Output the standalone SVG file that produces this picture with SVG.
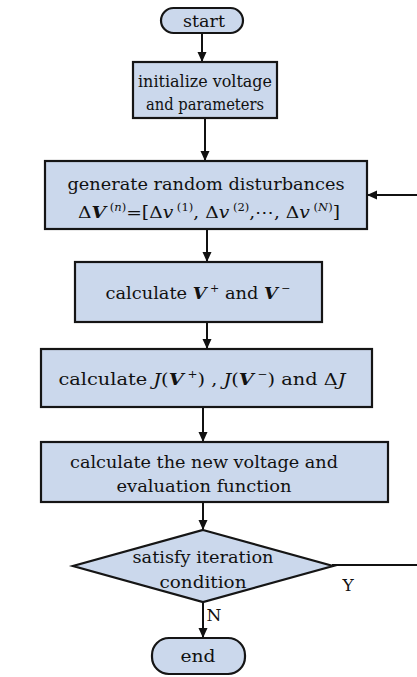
<svg xmlns="http://www.w3.org/2000/svg" width="417" height="677" viewBox="0 0 417 677">
<defs>
<marker id="ah" markerWidth="10" markerHeight="10" refX="9" refY="5" orient="auto" markerUnits="userSpaceOnUse">
<path d="M0,0.5 L10,5 L0,9.5 Z" fill="#111"/>
</marker>
<style>
.box{fill:#cbd8ec;stroke:#151515;stroke-width:2.2}
.t{font-family:"DejaVu Serif","Liberation Serif",serif;font-size:17px;fill:#111;text-anchor:middle}
.m{font-style:italic;font-weight:bold}
.s{font-size:10.5px}
.c{stroke:#111;stroke-width:2;fill:none}
</style>
</defs>
<rect width="417" height="677" fill="#fff"/>
<g id="connectors">
<line class="c" x1="202" y1="33" x2="202" y2="61" marker-end="url(#ah)"/>
<line class="c" x1="205" y1="118" x2="205" y2="160" marker-end="url(#ah)"/>
<line class="c" x1="207" y1="229" x2="207" y2="261" marker-end="url(#ah)"/>
<line class="c" x1="207" y1="322" x2="207" y2="348" marker-end="url(#ah)"/>
<line class="c" x1="203" y1="407" x2="203" y2="441" marker-end="url(#ah)"/>
<line class="c" x1="203" y1="502" x2="203" y2="529" marker-end="url(#ah)"/>
<line class="c" x1="203" y1="602" x2="203" y2="637" marker-end="url(#ah)"/>
<line class="c" x1="332" y1="565" x2="417" y2="565"/>
<line class="c" x1="417" y1="195" x2="368" y2="195" marker-end="url(#ah)"/>
<text class="t" x="348" y="591">Y</text>
<text class="t" x="214" y="621">N</text>
</g>
<g id="start">
<rect class="box" x="161" y="8" width="82" height="25" rx="12.5"/>
<text class="t" x="204" y="27" textLength="42" lengthAdjust="spacingAndGlyphs">start</text>
</g>
<g id="init">
<rect class="box" x="133" y="62" width="144" height="56"/>
<text class="t" x="205" y="87" textLength="134" lengthAdjust="spacingAndGlyphs">initialize voltage</text>
<text class="t" x="205" y="110" textLength="118" lengthAdjust="spacingAndGlyphs">and parameters</text>
</g>
<g id="generate">
<rect class="box" x="45" y="161" width="322" height="68"/>
<text class="t" x="206" y="190" textLength="277" lengthAdjust="spacingAndGlyphs">generate random disturbances</text>
<text class="t" x="209" y="218" textLength="262" lengthAdjust="spacingAndGlyphs"><tspan>Δ</tspan><tspan class="m">V</tspan><tspan class="s" dy="-7"> (</tspan><tspan class="s" font-style="italic">n</tspan><tspan class="s">)</tspan><tspan dy="7">=[Δ</tspan><tspan font-style="italic">v</tspan><tspan class="s" dy="-7"> (1)</tspan><tspan dy="7">, Δ</tspan><tspan font-style="italic">v</tspan><tspan class="s" dy="-7"> (2)</tspan><tspan dy="7">,⋯, Δ</tspan><tspan font-style="italic">v</tspan><tspan class="s" dy="-7"> (</tspan><tspan class="s" font-style="italic">N</tspan><tspan class="s">)</tspan><tspan dy="7">]</tspan></text>
</g>
<g id="calcV">
<rect class="box" x="75" y="262" width="247" height="60"/>
<text class="t" x="198" y="299" textLength="185" lengthAdjust="spacingAndGlyphs">calculate <tspan class="m">V</tspan><tspan class="s" dy="-7"> +</tspan><tspan dy="7"> and </tspan><tspan class="m">V</tspan><tspan class="s" dy="-7"> −</tspan></text>
</g>
<g id="calcJ">
<rect class="box" x="41" y="349" width="331" height="58"/>
<text class="t" x="202" y="385" textLength="287" lengthAdjust="spacingAndGlyphs">calculate <tspan font-style="italic">J</tspan>(<tspan class="m">V</tspan><tspan class="s" dy="-7"> +</tspan><tspan dy="7">) , </tspan><tspan font-style="italic">J</tspan>(<tspan class="m">V</tspan><tspan class="s" dy="-7"> −</tspan><tspan dy="7">) and  Δ</tspan><tspan font-style="italic">J</tspan></text>
</g>
<g id="newvoltage">
<rect class="box" x="41" y="442" width="347" height="60"/>
<text class="t" x="204" y="468" textLength="268" lengthAdjust="spacingAndGlyphs">calculate the new voltage and</text>
<text class="t" x="204" y="492" textLength="175" lengthAdjust="spacingAndGlyphs">evaluation function</text>
</g>
<g id="decision">
<polygon class="box" points="203,530 333,566 203,602 73,566"/>
<text class="t" x="203" y="563" textLength="141" lengthAdjust="spacingAndGlyphs">satisfy iteration</text>
<text class="t" x="203" y="588" textLength="87" lengthAdjust="spacingAndGlyphs">condition</text>
</g>
<g id="end">
<rect class="box" x="152" y="638" width="93" height="36" rx="17"/>
<text class="t" x="198" y="662" textLength="35" lengthAdjust="spacingAndGlyphs">end</text>
</g>
</svg>
